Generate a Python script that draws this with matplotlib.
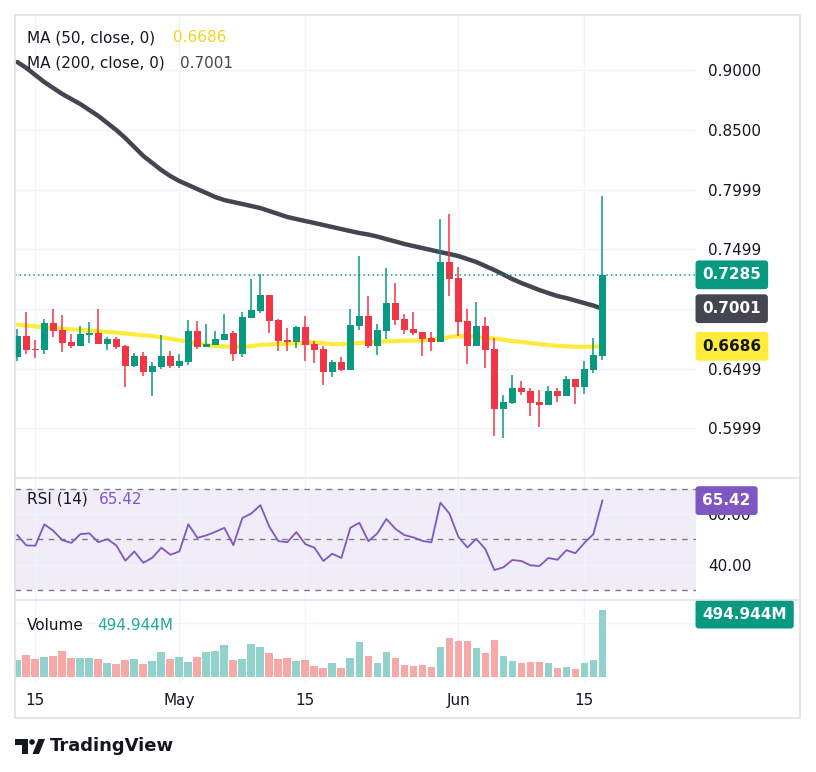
import numpy as np
import pandas as pd
import matplotlib
matplotlib.use("Agg")
import matplotlib.pyplot as plt
from matplotlib.patches import Rectangle, Polygon, Circle
from matplotlib.lines import Line2D

plt.rcParams["font.family"] = ["DejaVu Sans"]

# --- data (daily candles, Apr 13 .. Jun 17) ---
dates = pd.date_range("2024-04-13", "2024-06-17", freq="D")

opens = [0.6599, 0.6772, 0.6663, 0.6655, 0.6881, 0.6822, 0.6722, 0.6691, 0.6783, 0.6797,
         0.6707, 0.6747, 0.6688, 0.6523, 0.6604, 0.6473, 0.6515, 0.6604, 0.6523, 0.6557,
         0.6814, 0.6682, 0.6697, 0.6741, 0.6797, 0.6624, 0.6925, 0.6981, 0.7115, 0.6906,
         0.6741, 0.6724, 0.6847, 0.6705, 0.6663, 0.6473, 0.6554, 0.6490, 0.6858, 0.6939,
         0.6688, 0.6816, 0.7048, 0.6914, 0.6831, 0.6806, 0.6755, 0.6724, 0.7392, 0.7258,
         0.6898, 0.6691, 0.6856, 0.6663, 0.6163, 0.6213, 0.6336, 0.6311, 0.6219, 0.6197,
         0.6311, 0.6272, 0.6412, 0.6347, 0.6487, 0.6607]
highs = [0.6831, 0.6973, 0.6738, 0.6912, 0.6998, 0.6950, 0.6789, 0.6856, 0.6889, 0.6998,
         0.6764, 0.6764, 0.6697, 0.6630, 0.6638, 0.6554, 0.6780, 0.6646, 0.6621, 0.6906,
         0.6898, 0.6872, 0.6814, 0.6956, 0.6814, 0.6973, 0.7249, 0.7289, 0.7115, 0.6914,
         0.6839, 0.6856, 0.6939, 0.6733, 0.6688, 0.6571, 0.6596, 0.6998, 0.7442, 0.7107,
         0.6875, 0.7342, 0.7216, 0.6956, 0.6973, 0.6806, 0.6806, 0.7752, 0.7794, 0.7350,
         0.6998, 0.7057, 0.6933, 0.6758, 0.6278, 0.6445, 0.6395, 0.6336, 0.6320, 0.6353,
         0.6336, 0.6437, 0.6412, 0.6563, 0.6758, 0.7945]
lows = [0.6563, 0.6624, 0.6590, 0.6624, 0.6764, 0.6638, 0.6671, 0.6691, 0.6716, 0.6707,
        0.6655, 0.6666, 0.6345, 0.6515, 0.6440, 0.6269, 0.6498, 0.6506, 0.6506, 0.6529,
        0.6666, 0.6682, 0.6697, 0.6741, 0.6565, 0.6599, 0.6925, 0.6965, 0.6800, 0.6649,
        0.6649, 0.6674, 0.6565, 0.6548, 0.6364, 0.6431, 0.6481, 0.6490, 0.6825, 0.6671,
        0.6613, 0.6747, 0.6867, 0.6791, 0.6783, 0.6607, 0.6649, 0.6724, 0.7110, 0.6774,
        0.6540, 0.6691, 0.6506, 0.5937, 0.5920, 0.6205, 0.6280, 0.6104, 0.6012, 0.6197,
        0.6222, 0.6272, 0.6205, 0.6289, 0.6462, 0.6573]
closes = [0.6772, 0.6655, 0.6657, 0.6881, 0.6816, 0.6716, 0.6691, 0.6789, 0.6797, 0.6707,
          0.6747, 0.6682, 0.6523, 0.6604, 0.6473, 0.6521, 0.6604, 0.6523, 0.6563, 0.6814,
          0.6682, 0.6705, 0.6747, 0.6789, 0.6624, 0.6931, 0.6990, 0.7115, 0.6900, 0.6733,
          0.6724, 0.6847, 0.6699, 0.6655, 0.6473, 0.6554, 0.6490, 0.6864, 0.6939, 0.6688,
          0.6822, 0.7048, 0.6908, 0.6825, 0.6800, 0.6749, 0.6724, 0.7392, 0.7252, 0.6892,
          0.6691, 0.6856, 0.6657, 0.6163, 0.6219, 0.6336, 0.6303, 0.6213, 0.6197, 0.6311,
          0.6272, 0.6412, 0.6347, 0.6496, 0.6613, 0.7285]

ma50 = [0.6868, 0.6860, 0.6852, 0.6845, 0.6839, 0.6833, 0.6828, 0.6824, 0.6818, 0.6811,
        0.6807, 0.6800, 0.6793, 0.6786, 0.6778, 0.6772, 0.6761, 0.6749, 0.6738, 0.6724,
        0.6709, 0.6697, 0.6688, 0.6684, 0.6682, 0.6682, 0.6688, 0.6697, 0.6701, 0.6705,
        0.6709, 0.6711, 0.6716, 0.6719, 0.6713, 0.6705, 0.6703, 0.6709, 0.6713, 0.6719,
        0.6724, 0.6728, 0.6730, 0.6733, 0.6734, 0.6736, 0.6743, 0.6751, 0.6764, 0.6772,
        0.6770, 0.6764, 0.6759, 0.6751, 0.6741, 0.6730, 0.6722, 0.6713, 0.6705, 0.6697,
        0.6691, 0.6686, 0.6682, 0.6682, 0.6684, 0.6686]
ma200 = [0.9067, 0.9017, 0.8958, 0.8899, 0.8849, 0.8799, 0.8757, 0.8715, 0.8665, 0.8615,
         0.8556, 0.8497, 0.8430, 0.8355, 0.8280, 0.8221, 0.8162, 0.8112, 0.8070, 0.8037,
         0.8003, 0.7970, 0.7936, 0.7911, 0.7894, 0.7878, 0.7861, 0.7844, 0.7819, 0.7794,
         0.7769, 0.7752, 0.7735, 0.7719, 0.7702, 0.7685, 0.7668, 0.7651, 0.7635, 0.7622,
         0.7605, 0.7584, 0.7564, 0.7543, 0.7526, 0.7509, 0.7492, 0.7475, 0.7459, 0.7442,
         0.7417, 0.7392, 0.7358, 0.7325, 0.7287, 0.7249, 0.7216, 0.7187, 0.7157, 0.7132,
         0.7107, 0.7090, 0.7069, 0.7048, 0.7027, 0.7001]

rsi = [51.7, 47.6, 47.5, 56.0, 53.4, 49.7, 48.6, 52.1, 52.4, 48.9,
       50.1, 47.6, 41.5, 45.2, 40.7, 42.7, 46.7, 43.9, 45.2, 56.0,
       50.6, 51.6, 53.0, 54.6, 47.7, 58.5, 60.3, 63.6, 55.0, 49.3,
       48.9, 52.9, 48.1, 46.7, 41.4, 44.3, 42.6, 54.6, 56.6, 49.3,
       52.4, 58.1, 54.2, 51.7, 50.8, 49.4, 48.8, 64.6, 60.3, 51.0,
       46.8, 50.2, 46.1, 37.8, 38.9, 41.8, 41.4, 39.7, 39.4, 42.6,
       41.9, 45.7, 44.5, 48.6, 52.1, 65.42]

volume_m = [124, 161, 131, 146, 154, 191, 139, 139, 139, 131,
            102, 94, 124, 131, 94, 116, 183, 131, 146, 109,
            146, 183, 191, 235, 124, 131, 243, 220, 176, 131,
            139, 116, 124, 79, 65, 102, 65, 139, 257, 154,
            102, 183, 139, 87, 79, 87, 72, 220, 287, 265,
            265, 213, 176, 272, 154, 116, 102, 109, 109, 102,
            65, 72, 57, 102, 124, 494.944]

price_ticks = [0.9, 0.85, 0.7999, 0.7499, 0.6999, 0.6499, 0.5999]
price_tick_labels = ["0.9000", "0.8500", "0.7999", "0.7499", "", "0.6499", "0.5999"]
rsi_ticks = [40, 60]
rsi_tick_labels = ["40.00", "60.00"]
time_tick_dates = ["2024-04-15", "2024-05-01", "2024-05-15", "2024-06-01", "2024-06-15"]
time_tick_labels = ["15", "May", "15", "Jun", "15"]

# --- colours ---
UP, DOWN = "#089981", "#f23645"
VUP, VDOWN = "#92d2cc", "#f7a9a7"
TXT = "#131722"
GRID = "#f0f3fa"
BORDER = "#e0e3eb"
MA50_C, MA200_C = "#ffeb3b", "#434651"
RSI_C = "#7e57c2"

W, H = 816, 772
fig = plt.figure(figsize=(W / 100, H / 100), dpi=100)
fig.patch.set_facecolor("white")


def rect(x0, y0, x1, y1):
    return [x0 / W, 1 - y1 / H, (x1 - x0) / W, (y1 - y0) / H]


ax_p = fig.add_axes(rect(15, 15, 696, 478))
ax_r = fig.add_axes(rect(15, 478, 696, 600), sharex=ax_p)
ax_v = fig.add_axes(rect(15, 600, 696, 683), sharex=ax_p)

x = np.arange(len(dates))
o, h, l, c = map(np.array, (opens, highs, lows, closes))
up = c >= o
cols = np.where(up, UP, DOWN)
tick_pos = [dates.get_loc(pd.Timestamp(d)) for d in time_tick_dates]

for ax in (ax_p, ax_r, ax_v):
    for s in ax.spines.values():
        s.set_visible(False)
    ax.yaxis.tick_right()
    ax.tick_params(axis="y", length=0, pad=8.5, labelsize=11, labelcolor=TXT)
    ax.tick_params(axis="x", length=0, labelbottom=False)
    ax.set_xticks(tick_pos)
    ax.grid(True, color=GRID, lw=1)
    ax.set_axisbelow(True)

ax_p.set_xlim(-0.26, 75.4)

# --- price pane ---
ax_p.plot(x, ma200, color=MA200_C, lw=3.2, solid_capstyle="round", zorder=2)
ax_p.plot(x, ma50, color=MA50_C, lw=3.0, solid_capstyle="round", zorder=2)
ax_p.vlines(x, l, h, color=cols, lw=1.1, zorder=3)
body = np.maximum(np.abs(c - o), 0.0005)
ax_p.bar(x, body, bottom=np.minimum(o, c), width=0.78, color=cols, lw=0, zorder=4)
ax_p.axhline(closes[-1], color=UP, lw=1.1, ls=(0, (1, 2)), zorder=5)
ax_p.set_ylim(0.5583, 0.9461)
ax_p.set_yticks(price_ticks)
ax_p.set_yticklabels(price_tick_labels)


def value_box(ax, val, text, fc, tc):
    ax.annotate(text, xy=(1, val), xycoords=ax.get_yaxis_transform(),
                xytext=(4.6, 0), textcoords="offset points", ha="left", va="center",
                fontsize=11, fontweight="bold", color=tc, annotation_clip=False,
                bbox=dict(boxstyle="round,pad=0.45,rounding_size=0.2", fc=fc, ec="none"),
                zorder=10)


value_box(ax_p, closes[-1], "0.7285", UP, "white")
value_box(ax_p, ma200[-1], "0.7001", MA200_C, "white")
value_box(ax_p, ma50[-1], "0.6686", MA50_C, TXT)

# --- RSI pane ---
ax_r.axhspan(30, 70, color=RSI_C, alpha=0.1, lw=0, zorder=0)
for lev in (30, 50, 70):
    ax_r.axhline(lev, color="#787b86", lw=1, ls=(0, (4, 4)), zorder=1)
ax_r.plot(x, rsi, color=RSI_C, lw=1.3, zorder=3)
ax_r.set_ylim(25.9, 74.4)
ax_r.set_yticks(rsi_ticks)
ax_r.set_yticklabels(rsi_tick_labels)
value_box(ax_r, rsi[-1], "65.42", RSI_C, "white")

# --- volume pane ---
ax_v.bar(x, volume_m, width=0.86, color=np.where(up, VUP, VDOWN), lw=0, zorder=2)
ax_v.set_ylim(-47, 569)
ax_v.set_yticks([400])
ax_v.set_yticklabels([""])
ax_v.tick_params(axis="x", labelbottom=True, pad=7, labelsize=11, labelcolor=TXT)
ax_v.set_xticklabels(time_tick_labels)
ax_v.annotate("494.944M", xy=(1, volume_m[-1]), xycoords=ax_v.get_yaxis_transform(),
              xytext=(4.6, -3), textcoords="offset points", ha="left", va="center",
              fontsize=11, fontweight="bold", color="white", annotation_clip=False,
              bbox=dict(boxstyle="round,pad=0.45,rounding_size=0.2", fc=UP, ec="none"),
              zorder=10)

# --- legends ---
def ftext(px, py, s, color=TXT, size=11, **kw):
    fig.text(px / W, 1 - py / H, s, color=color, fontsize=size, va="center", ha="left", **kw)


ftext(27, 38, "MA (50, close, 0)")
ftext(173, 38, "0.6686", color="#f2d422")
ftext(27, 63, "MA (200, close, 0)")
ftext(180, 63, "0.7001", color="#434651")
ftext(27, 499, "RSI (14)")
ftext(99, 499, "65.42", color=RSI_C)
ftext(27, 625, "Volume")
ftext(97, 625, "494.944M", color="#22ab94")

# --- frame and separators ---
fig.add_artist(Rectangle((15 / W, 1 - 718 / H), 785 / W, 703 / H, transform=fig.transFigure,
                         fill=False, edgecolor=BORDER, lw=1.3))
for py in (478, 600):
    fig.add_artist(Line2D([15 / W, 800 / W], [1 - py / H, 1 - py / H],
                          transform=fig.transFigure, color=BORDER, lw=1.2))

# --- TradingView logo ---
lax = fig.add_axes(rect(15, 736, 47, 756))
lax.set_xlim(15, 47)
lax.set_ylim(756, 736)
lax.axis("off")
lax.add_patch(Polygon([(15, 739), (28, 739), (28, 754), (22, 754), (22, 745), (15, 745)],
                      closed=True, fc=TXT, ec="none"))
lax.add_patch(Circle((32, 742), 2.8, fc=TXT, ec="none"))
lax.add_patch(Polygon([(32.5, 754), (38.5, 739), (45, 739), (39, 754)], closed=True, fc=TXT, ec="none"))
ftext(50, 746, "TradingView", size=13, fontweight="semibold")

fig.savefig("out.png", dpi=100, facecolor="white")
